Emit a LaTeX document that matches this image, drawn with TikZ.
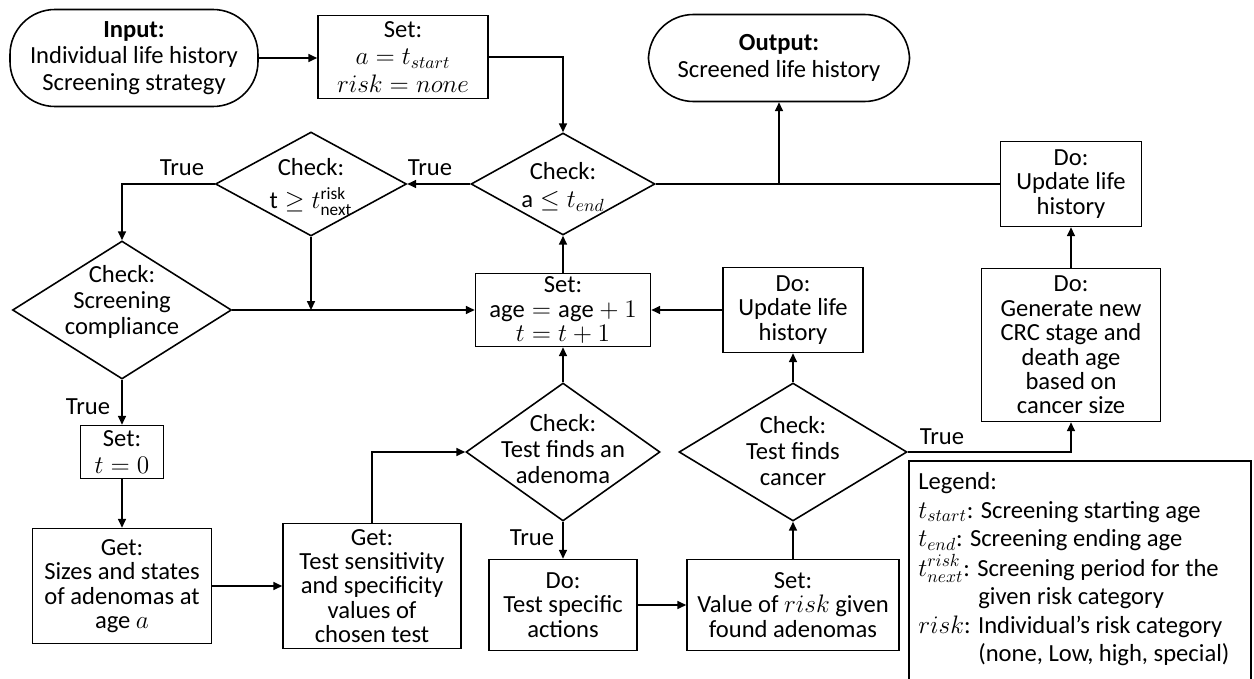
\documentclass[tikz,border=0pt]{standalone}
\usepackage{fontspec}
\setmainfont{Carlito}
\usetikzlibrary{shapes.geometric,arrows.meta}
\begin{document}
\begin{tikzpicture}[x=0.02cm,y=-0.02cm,
 every node/.style={font=\fontsize{14}{13.9}\selectfont},
 box/.style={draw,line width=0.9pt,inner sep=0pt,align=center},
 term/.style={box,rounded corners=0.9cm},
 dia/.style={draw,line width=0.9pt,diamond,inner sep=0pt},
 txt/.style={align=center,inner sep=0pt},
 arr/.style={line width=0.9pt,-{Triangle[length=5pt,width=4.5pt]}},
 ln/.style={line width=0.9pt},
 lab/.style={inner sep=0pt},
 leg/.style={anchor=base west,inner sep=0pt}]
\useasboundingbox (0,0) rectangle (1254,679);

\node[term,minimum width={248*0.02cm},minimum height={97*0.02cm}] (in) at (134,58) {\textbf{Input:}\\[1pt]Individual life history\\[1pt]Screening strategy};
\node[box,minimum width={170*0.02cm},minimum height={83*0.02cm}] (s1) at (403,57) {Set:\\[2pt]$a=t_{start}$\\[2pt]$risk=none$};
\node[term,minimum width={261*0.02cm},minimum height={87*0.02cm}] (out) at (779,58) {\textbf{Output:}\\[1pt]Screened life history};

\node[dia,minimum width={184*0.02cm},minimum height={102*0.02cm}] (c1) at (563,184) {};
\node[txt] at (563,187) {Check:\\[2pt]$\mathrm{a}\leq t_{end}$};
\node[dia,minimum width={191*0.02cm},minimum height={104*0.02cm}] (c2) at (311,184) {};
\node[txt] at (311,187) {Check:\\[5pt]$\mathrm{t}\geq t^{\mathrm{risk}}_{\mathrm{next}}$};
\node[dia,minimum width={219*0.02cm},minimum height={138*0.02cm}] (cp) at (122,310) {};
\node[txt] at (122,302) {Check:\\[1pt]Screening\\[1pt]compliance};

\node[box,minimum width={83*0.02cm},minimum height={53*0.02cm}] (t0) at (122,452) {Set:\\[1pt]$t=0$};
\node[box,minimum width={179*0.02cm},minimum height={115*0.02cm}] (gs) at (122,586) {Get:\\Sizes and states\\of adenomas at\\age $a$};
\node[box,minimum width={178*0.02cm},minimum height={125*0.02cm}] (gt) at (372,586) {Get:\\Test sensitivity\\and specificity\\values of\\chosen test};

\node[box,minimum width={175*0.02cm},minimum height={73*0.02cm}] (sa) at (563,310) {Set:\\$\mathrm{age}=\mathrm{age}+1$\\$t=t+1$};
\node[dia,minimum width={194*0.02cm},minimum height={138*0.02cm}] (ad) at (563,452) {};
\node[txt] at (563,449) {Check:\\[1pt]Test finds an\\[1pt]adenoma};
\node[box,minimum width={148*0.02cm},minimum height={91*0.02cm}] (ts) at (563,605) {Do:\\Test specific\\actions};
\node[box,minimum width={212*0.02cm},minimum height={91*0.02cm}] (sr) at (793,605) {Set:\\Value of $risk$ given\\found adenomas};
\node[dia,minimum width={228*0.02cm},minimum height={138*0.02cm}] (ca) at (793,452) {};
\node[txt] at (793,451) {Check:\\[1pt]Test finds\\[1pt]cancer};
\node[box,minimum width={140*0.02cm},minimum height={85*0.02cm}] (u2) at (793,310) {Do:\\Update life\\history};

\node[box,minimum width={141*0.02cm},minimum height={85*0.02cm}] (u1) at (1071,184) {Do:\\Update life\\history};
\node[box,minimum width={179*0.02cm},minimum height={153*0.02cm}] (gen) at (1071,345) {Do:\\Generate new\\CRC stage and\\death age\\based on\\cancer size};

\node[draw,line width=0.9pt,anchor=north west,minimum width={342*0.02cm},minimum height={235*0.02cm},inner sep=0pt] (lg) at (908,460) {};
\node[leg] (l1) at (918,489) {Legend:};
\node[leg] (l2) at (918,518) {$t_{start}$: Screening starting age};
\node[leg] (l3) at (918,546.5) {$t_{end}$: Screening ending age};
\node[leg] (l4) at (918,576) {$t^{risk}_{next}$: Screening period for the};
\node[leg] (l5) at (978,604.5) {given risk category};
\node[leg] (l6) at (918,633) {$risk$: Individual's risk category};
\node[leg] (l7) at (978,661.5) {(none, Low, high, special)};

% connectors
\draw[arr] (in.east) -- (in.east -| s1.west);
\draw[arr] (s1.east) -| (c1.north);
\draw[arr] (c1.west) -- (c2.east);
\node[lab] at (430,168) {True};
\draw[arr] (c2.west) -| (cp.north);
\node[lab] at (182,168) {True};
\draw[arr] (cp.east) -- (sa.west);
\draw[arr] (c2.south) -- (c2.south |- cp.east);
\draw[arr] (cp.south) -- (t0.north);
\node[lab] at (88,407) {True};
\draw[arr] (t0) -- (gs);
\draw[arr] (gs) -- (gt);
\draw[arr] (gt.north) |- (ad.west);
\draw[arr] (ad.north) -- (sa.south);
\draw[arr] (sa.north) -- (c1.south);
\draw[arr] (ad.south) -- (ts.north);
\node[lab] at (532,538) {True};
\draw[arr] (ts) -- (sr);
\draw[arr] (sr.north) -- (ca.south);
\draw[arr] (ca.north) -- (u2.south);
\draw[arr] (u2.west) -- (sa.east);
\draw[arr] (ca.east) -| (gen.south);
\node[lab] at (942,437) {True};
\draw[arr] (gen.north) -- (u1.south);
\draw[ln] (c1.east) -- (u1.west);
\coordinate (j) at (out.south |- c1.east);
\draw[arr] (j) -- (out.south);
\end{tikzpicture}
\end{document}
